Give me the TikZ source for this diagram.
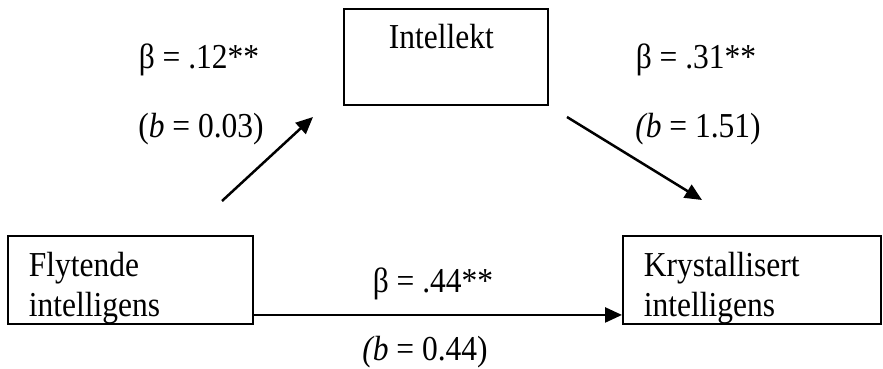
\documentclass[tikz,border=0pt]{standalone}
\usepackage{fontspec}
\setmainfont[FakeStretch=0.9]{Liberation Serif}
\usetikzlibrary{positioning,arrows.meta}

\begin{document}
\begin{tikzpicture}[
  x=1pt, y=-1pt,
  font=\fontsize{35}{40}\selectfont,
  box/.style={draw, line width=1.9pt, inner ysep=0pt, inner xsep=21pt, align=left, text height=41pt, text depth=47pt, anchor=north west},
  link/.style={-{Triangle[length=17pt,width=15pt]}, line width=2.5pt},
  coef/.style={anchor=base, inner sep=0pt},
]
\useasboundingbox (0,0) rectangle (883,369);

% ---- variables ----
\node[box, text width=114pt, inner xsep=45pt, text height=40pt, text depth=56pt] (intel) at (343,8) {Intellekt};
\node[box, text width=203pt] (fluid) at (7,235) {Flytende\\intelligens};
\node[box, text width=216pt] (cryst) at (622,235) {Krystallisert\\intelligens};

% ---- paths ----
\coordinate (t1) at (222,201);
\coordinate (h1) at (313,117);
\coordinate (t2) at (567,117);
\coordinate (h2) at (702,200);
\draw[link] (t1) -- (h1);
\draw[link] (t2) -- (h2);
\draw[link] ([yshift=-35pt]fluid.east) -- ([yshift=-35pt]cryst.west);

% ---- coefficients ----
\node[coef] (b12)  at (199,68)  {β = .12**};
\node[coef] (b03)  at (201,137) {(\textit{b} = 0.03)};
\node[coef] (b31)  at (696,68)  {β = .31**};
\node[coef] (b151) at (698,137) {\textit{(b} = 1.51)};
\node[coef] (b44)  at (433,292) {β = .44**};
\node[coef] (b044) at (425,360) {\textit{(b} = 0.44)};

\end{tikzpicture}
\end{document}
